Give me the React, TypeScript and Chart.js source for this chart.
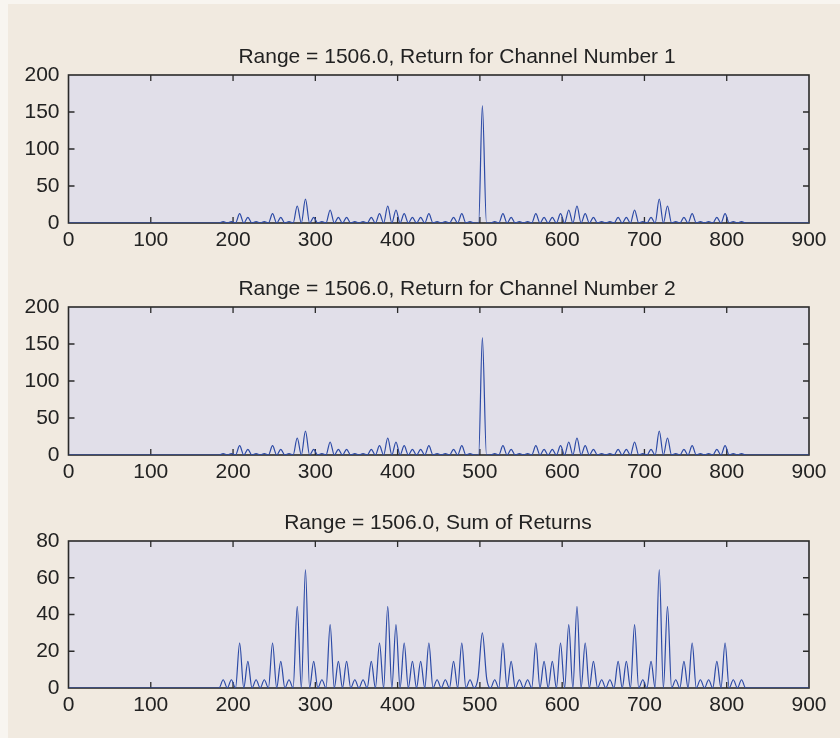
import React, { useEffect, useRef } from "react";
import { Chart, registerables } from "chart.js";

Chart.register(...registerables);

const FONT = "'Liberation Sans', Arial, Helvetica, sans-serif";

// ---- axis ticks ----
const xTickValues = [0, 100, 200, 300, 400, 500, 600, 700, 800, 900];
const channelYTicks = [0, 50, 100, 150, 200];
const sumYTicks = [0, 20, 40, 60, 80];

// ---- titles ----
const titles = [
  "Range = 1506.0, Return for Channel Number 1",
  "Range = 1506.0, Return for Channel Number 2",
  "Range = 1506.0, Sum of Returns",
];

// ---- lobe (peak) positions ----
const lobeCenters = [
  188, 198, 208, 218, 228, 238, 248, 258, 268, 278,
  288, 298, 308, 318, 328, 338, 348, 358, 368, 378,
  388, 398, 408, 418, 428, 438, 448, 458, 468, 478,
  488, 503,
  518, 528, 538, 548, 558, 568, 578, 588, 598, 608,
  618, 628, 638, 648, 658, 668, 678, 688, 698, 708,
  718, 728, 738, 748, 758, 768, 778, 788, 798, 808,
  818,
];

// ---- positions where the trace returns to zero between lobes ----
const troughPositions = [
  183, 193, 203, 213, 223, 233, 243, 253, 263, 273,
  283, 293, 303, 313, 323, 333, 343, 353, 363, 373,
  383, 393, 403, 413, 423, 433, 443, 453, 463, 473,
  483, 493,
  513, 523, 533, 543, 553, 563, 573, 583, 593, 603,
  613, 623, 633, 643, 653, 663, 673, 683, 693, 703,
  713, 723, 733, 743, 753, 763, 773, 783, 793, 803,
  813, 823,
];

// ---- peak heights, channel 1 ----
const channel1Peaks = [
  2, 2, 12.6, 7.7, 2, 2, 12.6, 7.7, 2, 23,
  32.4, 7.7, 2, 17.6, 7.7, 7.7, 2, 2, 7.7, 12.6,
  23, 17.6, 12.6, 7.7, 7.7, 12.6, 2, 2, 7.7, 12.6,
  2, 158.5,
  2, 12.6, 7.7, 2, 2, 12.6, 7.7, 7.7, 12.6, 17.6,
  23, 12.6, 7.7, 2, 2, 7.7, 7.7, 17.6, 2, 7.7,
  32.4, 23, 2, 7.7, 12.6, 2, 2, 7.7, 12.6, 2,
  2,
];

// ---- peak heights, channel 2 ----
const channel2Peaks = [
  2, 2, 12.6, 7.7, 2, 2, 12.6, 7.7, 2, 23,
  32.4, 7.7, 2, 17.6, 7.7, 7.7, 2, 2, 7.7, 12.6,
  23, 17.6, 12.6, 7.7, 7.7, 12.6, 2, 2, 7.7, 12.6,
  2, 158.5,
  2, 12.6, 7.7, 2, 2, 12.6, 7.7, 7.7, 12.6, 17.6,
  23, 12.6, 7.7, 2, 2, 7.7, 7.7, 17.6, 2, 7.7,
  32.4, 23, 2, 7.7, 12.6, 2, 2, 7.7, 12.6, 2,
  2,
];

// ---- peak heights, sum of returns ----
const sumPeaks = [
  4.5, 4.5, 24.5, 14.5, 4.5, 4.5, 24.5, 14.5, 4.5, 44.5,
  64.5, 14.5, 4.5, 34.5, 14.5, 14.5, 4.5, 4.5, 14.5, 24.5,
  44.5, 34.5, 24.5, 14.5, 14.5, 24.5, 4.5, 4.5, 14.5, 24.5,
  4.5, 30,
  4.5, 24.5, 14.5, 4.5, 4.5, 24.5, 14.5, 14.5, 24.5, 34.5,
  44.5, 24.5, 14.5, 4.5, 4.5, 14.5, 14.5, 34.5, 4.5, 14.5,
  64.5, 44.5, 4.5, 14.5, 24.5, 4.5, 4.5, 14.5, 24.5, 4.5,
  4.5,
];

// ---- extra vertices around the central return ----
const channelBaseX = [498.5, 508];
const channelBaseY = [0, 0];
const sumShoulderX = [497.8, 508.3];
const sumShoulderY = [5.8, 5];

type Pt = { x: number; y: number };

function buildSeries(peaks: number[], extraX: number[], extraY: number[]): Pt[] {
  const pts: Pt[] = [];
  pts.push({ x: xTickValues[0], y: 0 });
  troughPositions.forEach((x) => pts.push({ x, y: 0 }));
  lobeCenters.forEach((x, i) => pts.push({ x, y: peaks[i] }));
  extraX.forEach((x, i) => pts.push({ x, y: extraY[i] }));
  pts.push({ x: xTickValues[xTickValues.length - 1], y: 0 });
  pts.sort((a, b) => a.x - b.x);
  return pts;
}

const COLORS = {
  outer: "#f8f5f0",
  page: "#f1eae0",
  plot: "#e1dfe9",
  frame: "#2a2a2a",
  text: "#222222",
  line: "#2c4aa6",
};

const framePlugin = {
  id: "matlabFrame",
  beforeDraw(chart: any) {
    const { ctx, chartArea: a } = chart;
    ctx.save();
    ctx.fillStyle = COLORS.plot;
    ctx.fillRect(a.left, a.top, a.right - a.left, a.bottom - a.top);
    ctx.restore();
  },
  beforeDatasetsDraw(chart: any, _args: any, opts: any) {
    const { ctx, chartArea: a, scales } = chart;
    ctx.save();
    ctx.strokeStyle = COLORS.frame;
    ctx.lineWidth = 1.6;
    ctx.strokeRect(a.left, a.top, a.right - a.left, a.bottom - a.top);
    ctx.lineWidth = 1.3;
    ctx.beginPath();
    const L = 6;
    scales.x.ticks.forEach((t: any) => {
      const px = scales.x.getPixelForValue(t.value);
      if (px <= a.left + 1 || px >= a.right - 1) return;
      ctx.moveTo(px, a.bottom);
      ctx.lineTo(px, a.bottom - L);
      ctx.moveTo(px, a.top);
      ctx.lineTo(px, a.top + L);
    });
    scales.y.ticks.forEach((t: any) => {
      const py = scales.y.getPixelForValue(t.value);
      if (py <= a.top + 1 || py >= a.bottom - 1) return;
      ctx.moveTo(a.left, py);
      ctx.lineTo(a.left + L, py);
      ctx.moveTo(a.right, py);
      ctx.lineTo(a.right - L, py);
    });
    ctx.stroke();
    ctx.fillStyle = COLORS.text;
    ctx.font = `21px ${FONT}`;
    ctx.textAlign = "center";
    ctx.textBaseline = "alphabetic";
    ctx.fillText(opts.title, opts.titleX, a.top - 12);
    ctx.restore();
  },
};

const CANVAS_W = 840;
const CANVAS_H = 232;
const TOP_PAD = 55;

type SubProps = {
  top: number;
  title: string;
  titleX: number;
  yTicks: number[];
  series: Pt[];
  plotHeight: number;
};

function Subplot({ top, title, titleX, yTicks, series, plotHeight }: SubProps) {
  const ref = useRef<HTMLCanvasElement | null>(null);
  useEffect(() => {
    if (!ref.current) return;
    const tickFont = { family: FONT, size: 21, weight: "normal" as const };
    const chart = new Chart(ref.current, {
      type: "line",
      data: {
        datasets: [
          {
            data: series,
            borderColor: COLORS.line,
            borderWidth: 1.2,
            pointRadius: 0,
            fill: false,
            cubicInterpolationMode: "monotone",
          },
        ],
      },
      options: {
        animation: false,
        responsive: false,
        maintainAspectRatio: false,
        events: [],
        layout: { padding: { left: 0, right: 31, top: TOP_PAD, bottom: 0 } },
        plugins: {
          legend: { display: false },
          tooltip: { enabled: false },
          title: { display: false },
          matlabFrame: { title, titleX },
        } as any,
        scales: {
          x: {
            type: "linear",
            min: xTickValues[0],
            max: xTickValues[xTickValues.length - 1],
            afterBuildTicks: (s: any) => {
              s.ticks = xTickValues.map((v) => ({ value: v }));
            },
            afterFit: (s: any) => {
              s.height = CANVAS_H - TOP_PAD - plotHeight;
            },
            ticks: {
              font: tickFont,
              color: COLORS.text,
              padding: 5,
              maxRotation: 0,
              autoSkip: false,
            },
            grid: { display: false, drawTicks: false },
            border: { display: false },
          },
          y: {
            type: "linear",
            min: yTicks[0],
            max: yTicks[yTicks.length - 1],
            afterBuildTicks: (s: any) => {
              s.ticks = yTicks.map((v) => ({ value: v }));
            },
            afterFit: (s: any) => {
              s.width = 68.5;
            },
            ticks: {
              font: tickFont,
              color: COLORS.text,
              padding: 9,
              autoSkip: false,
            },
            grid: { display: false, drawTicks: false },
            border: { display: false },
          },
        },
      },
      plugins: [framePlugin as any],
    });
    return () => chart.destroy();
  }, []);
  return (
    <canvas
      ref={ref}
      width={CANVAS_W}
      height={CANVAS_H}
      style={{ position: "absolute", left: 0, top, width: CANVAS_W, height: CANVAS_H }}
    />
  );
}

export default function App() {
  const ch1 = buildSeries(channel1Peaks, channelBaseX, channelBaseY);
  const ch2 = buildSeries(channel2Peaks, channelBaseX, channelBaseY);
  const sum = buildSeries(sumPeaks, sumShoulderX, sumShoulderY);
  return (
    <div
      style={{
        position: "absolute",
        left: 0,
        top: 0,
        width: 840,
        height: 738,
        background: COLORS.outer,
        overflow: "hidden",
      }}
    >
      <div
        style={{
          position: "absolute",
          left: 8,
          top: 4,
          width: 832,
          height: 734,
          background: COLORS.page,
        }}
      />
      <Subplot top={20} title={titles[0]} titleX={457} yTicks={channelYTicks} series={ch1} plotHeight={148} />
      <Subplot top={252} title={titles[1]} titleX={457} yTicks={channelYTicks} series={ch2} plotHeight={148} />
      <Subplot top={486} title={titles[2]} titleX={438} yTicks={sumYTicks} series={sum} plotHeight={147} />
    </div>
  );
}
